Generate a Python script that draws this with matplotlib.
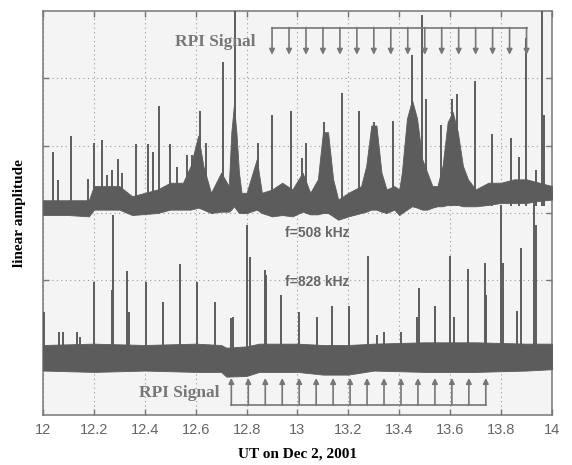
import numpy as np
import matplotlib
matplotlib.use("Agg")
import matplotlib.pyplot as plt

# ---- data (x in UT hours, y in arbitrary linear units) ----
# upper trace (f=508 kHz): noise band envelope
up_x = [12.00, 12.10, 12.18, 12.20, 12.30, 12.35, 12.45, 12.50, 12.55, 12.58,
        12.61, 12.63, 12.66, 12.70, 12.73, 12.74, 12.75, 12.76, 12.77, 12.78,
        12.80, 12.84, 12.86, 12.90, 12.94, 12.98, 13.02, 13.05, 13.08, 13.10,
        13.12, 13.14, 13.16, 13.20, 13.25, 13.27, 13.29, 13.31, 13.33, 13.35,
        13.38, 13.40, 13.41, 13.43, 13.45, 13.47, 13.49, 13.51, 13.53, 13.55,
        13.57, 13.59, 13.61, 13.63, 13.65, 13.67, 13.70, 13.75, 13.80, 13.85,
        13.90, 13.95, 14.00]
up_hi = [3.19, 3.19, 3.19, 3.40, 3.40, 3.25, 3.35, 3.45, 3.45, 3.70,
         4.15, 3.70, 3.30, 3.60, 3.40, 4.20, 4.60, 4.20, 3.60, 3.30,
         3.30, 3.80, 3.30, 3.35, 3.45, 3.35, 3.60, 3.30, 3.50, 4.20,
         4.20, 3.50, 3.20, 3.30, 3.40, 3.70, 4.30, 4.30, 3.60, 3.35,
         3.40, 3.35, 3.60, 4.40, 4.68, 4.40, 3.80, 3.60, 3.40, 3.40,
         3.70, 4.35, 4.50, 4.20, 3.70, 3.50, 3.35, 3.45, 3.45, 3.50,
         3.50, 3.45, 3.40]
up_lo = [2.97, 2.97, 2.95, 3.05, 3.05, 2.97, 3.00, 3.05, 3.05, 3.05,
         3.08, 3.05, 3.00, 3.02, 3.02, 3.05, 3.10, 3.05, 3.00, 3.00,
         3.00, 3.05, 3.00, 2.95, 2.97, 2.95, 3.02, 2.98, 2.98, 3.00,
         3.00, 2.95, 2.90, 2.95, 3.00, 3.02, 3.05, 3.05, 3.02, 3.00,
         3.05, 2.97, 3.00, 3.05, 3.10, 3.08, 3.05, 3.05, 3.08, 3.10,
         3.10, 3.12, 3.12, 3.12, 3.10, 3.10, 3.10, 3.12, 3.15, 3.15,
         3.15, 3.18, 3.20]
up_spk_x = [12.039, 12.059, 12.110, 12.176, 12.200, 12.231, 12.251, 12.271,
            12.294, 12.310, 12.365, 12.412, 12.431, 12.455, 12.498, 12.525,
            12.565, 12.584, 12.616, 12.639, 12.706, 12.753, 12.843, 12.898,
            12.937, 12.973, 13.016, 13.035, 13.106, 13.173, 13.243, 13.302,
            13.376, 13.451, 13.490, 13.506, 13.565, 13.608, 13.627, 13.698,
            13.765, 13.839, 13.871, 13.898, 13.937, 13.961, 13.969]
up_spk_y = [3.91, 3.49, 4.15, 3.51, 4.04, 4.09, 3.57, 3.64,
            3.80, 3.60, 4.03, 4.03, 3.91, 4.59, 4.03, 3.68,
            3.86, 3.86, 4.52, 4.04, 5.25, 6.20, 4.04, 4.46,
            3.39, 4.52, 3.82, 4.04, 4.35, 4.78, 4.52, 4.35,
            4.37, 5.35, 5.94, 4.70, 4.31, 4.70, 4.77, 4.96,
            4.18, 4.12, 3.83, 5.60, 3.64, 6.10, 4.46]

# lower trace (f=828 kHz)
lo_x = [12.00, 12.20, 12.40, 12.60, 12.70, 12.72, 12.80, 12.85, 13.00,
        13.10, 13.20, 13.30, 13.50, 13.70, 13.90, 14.00]
lo_hi = [1.04, 1.06, 1.04, 1.06, 1.04, 1.00, 1.02, 1.06, 1.06,
         1.04, 1.04, 1.06, 1.08, 1.08, 1.06, 1.06]
lo_lo = [0.66, 0.64, 0.66, 0.64, 0.64, 0.57, 0.58, 0.64, 0.64,
         0.60, 0.60, 0.66, 0.64, 0.64, 0.66, 0.68]
lo_spk_x = [12.004, 12.063, 12.078, 12.133, 12.145, 12.200, 12.271, 12.275,
            12.329, 12.337, 12.404, 12.471, 12.537, 12.604, 12.675, 12.737,
            12.745, 12.800, 12.812, 12.871, 12.878, 12.937, 13.004, 13.075,
            13.137, 13.204, 13.278, 13.314, 13.341, 13.408, 13.471, 13.478,
            13.541, 13.600, 13.616, 13.671, 13.737, 13.741, 13.800, 13.808,
            13.863, 13.878, 13.929, 13.937]
lo_spk_y = [1.53, 1.23, 1.23, 1.23, 1.16, 1.98, 1.86, 2.97,
            2.14, 1.53, 1.98, 1.68, 2.24, 1.98, 1.68, 1.44,
            1.46, 2.82, 2.35, 2.15, 2.08, 1.78, 1.53, 1.46,
            1.62, 1.62, 2.36, 1.19, 1.23, 1.23, 1.46, 1.89,
            1.62, 2.36, 1.46, 2.17, 2.26, 1.78, 3.12, 2.26,
            1.55, 2.48, 3.27, 2.82]

# RPI transmission times (every 4 min)
rpi_up_x = [12.9 + k / 15 for k in range(16)]
rpi_lo_x = [12.74 + k / 15 for k in range(16)]

trace_col = "#5c5c5c"
ann_col = "#777777"

fig = plt.figure(figsize=(5.72, 4.65), dpi=100)
fig.patch.set_facecolor("white")
ax = fig.add_axes([0.0752, 0.1075, 0.8898, 0.8688])
ax.set_facecolor("#f4f4f4")

ax.fill_between(up_x, up_lo, up_hi, color=trace_col, lw=0.6, zorder=3)
ax.vlines(up_spk_x, 3.1, up_spk_y, color=trace_col, lw=1.4, zorder=3)
ax.fill_between(lo_x, lo_lo, lo_hi, color=trace_col, lw=0.6, zorder=3)
ax.vlines(lo_spk_x, 0.85, lo_spk_y, color=trace_col, lw=1.4, zorder=3)

# RPI markers
ax.plot([rpi_up_x[0], rpi_up_x[-1]], [5.75, 5.75], color=ann_col, lw=1.2, zorder=4)
for xx in rpi_up_x:
    ax.annotate("", xy=(xx, 5.35), xytext=(xx, 5.755),
                arrowprops=dict(arrowstyle="-|>", color=ann_col, lw=1.2,
                                mutation_scale=8, shrinkA=0, shrinkB=0), zorder=4)
ax.plot([rpi_lo_x[0], rpi_lo_x[-1]], [0.15, 0.15], color=ann_col, lw=1.2, zorder=4)
for xx in rpi_lo_x:
    ax.annotate("", xy=(xx, 0.55), xytext=(xx, 0.145),
                arrowprops=dict(arrowstyle="-|>", color=ann_col, lw=1.2,
                                mutation_scale=8, shrinkA=0, shrinkB=0), zorder=4)

serif = ["Liberation Serif", "DejaVu Serif"]
sans = ["Liberation Sans", "DejaVu Sans"]
ax.text(12.675, 5.54, "RPI Signal", family=serif, weight="bold", size=12.5,
        color=ann_col, ha="center", va="center", zorder=5)
ax.text(12.537, 0.33, "RPI Signal", family=serif, weight="bold", size=12.5,
        color=ann_col, ha="center", va="center", zorder=5)
ax.text(12.949, 2.70, "f=508 kHz", family=sans, weight="bold", size=10,
        color="#666666", ha="left", va="center", zorder=5)
ax.text(12.949, 1.98, "f=828 kHz", family=sans, weight="bold", size=10,
        color="#666666", ha="left", va="center", zorder=5)

ax.set_xlim(12, 14)
ax.set_ylim(0, 6)
xt = np.round(np.arange(12, 14.01, 0.2), 1)
ax.set_xticks(xt)
ax.set_xticklabels([f"{v:g}" for v in xt], family=sans, size=10.5, color="#666666")
ax.set_yticks([1, 2, 3, 4, 5])
ax.set_yticklabels([])
ax.tick_params(direction="in", top=True, right=True, length=4, color="#777777",
               width=1, pad=6)
ax.grid(True, color="#999999", lw=0.8, ls=(0, (1, 3)), zorder=1)
ax.set_axisbelow(True)
for s in ax.spines.values():
    s.set_color("#777777")
    s.set_linewidth(1.1)

ax.set_xlabel("UT on Dec 2, 2001", family=serif, weight="bold", size=11, labelpad=7)
ax.set_ylabel("linear amplitude", family=serif, weight="bold", size=11, labelpad=6)

fig.savefig("out.png", dpi=100)
